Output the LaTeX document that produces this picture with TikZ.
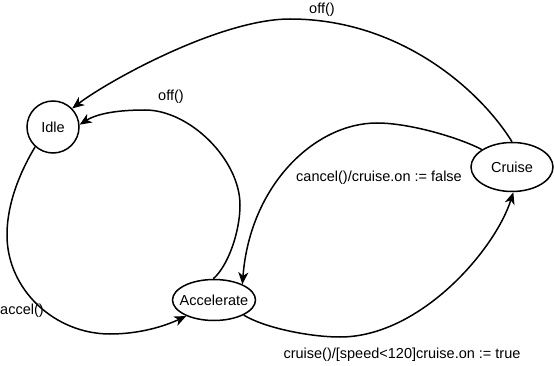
\documentclass[tikz,border=0pt]{standalone}
\usepackage{fontspec}
\setmainfont{Liberation Sans}
\usetikzlibrary{arrows.meta,shapes.geometric}
\begin{document}
\begin{tikzpicture}[x=1pt,y=-1pt,
  state/.style={draw,line width=1.5pt,inner sep=0pt,font=\fontsize{14.5}{17}\selectfont},
  trans/.style={line width=1.5pt,-{Stealth[length=12pt,width=10pt,inset=3.5pt]}},
  lbl/.style={font=\fontsize{14.5}{17}\selectfont,inner sep=0pt}]
\useasboundingbox[fill=white] (0,0) rectangle (554,366);
\node[state,circle,minimum size=52pt] (idle) at (53,127) {\makebox[0pt]{Idle}};
\node[state,ellipse,minimum width=83pt,minimum height=41pt] (acc) at (214,300) {\makebox[0pt]{Accelerate}};
\node[state,ellipse,minimum width=82pt,minimum height=49pt] (cru) at (512,167) {\makebox[0pt]{Cruise}};

\draw[trans] (idle.228) .. controls (23,167) and (7,200) .. (7,235)
  .. controls (7,290) and (55,334) .. (110,334)
  .. controls (140,334) and (165,326) .. (acc.210);
\draw[trans] (acc.92) .. controls (228,266) and (240,232) .. (240,205)
  .. controls (240,160) and (190,110) .. (145,110)
  .. controls (120,110) and (98,113) .. (idle.5);
\draw[trans] (cru.90) .. controls (480,90) and (400,19) .. (290,19)
  .. controls (220,19) and (108,81) .. (idle.44);
\draw[trans] (cru.150) .. controls (460,138) and (410,123) .. (377,123)
  .. controls (315,123) and (250,185) .. (acc.29);
\draw[trans] (acc.-27) .. controls (265,328) and (310,337) .. (340,337)
  .. controls (420,337) and (495,250) .. (cru.-87);

\node[lbl] (l1) at (322,10) {off()};
\node[lbl] (l2) at (171,97) {off()};
\node[lbl] (l3) at (22,311) {accel()};
\node[lbl] (l4) at (379,178) {cancel()/cruise.on := false};
\node[lbl] (l5) at (402,355) {cruise()/[speed<120]cruise.on := true};
\end{tikzpicture}
\end{document}
